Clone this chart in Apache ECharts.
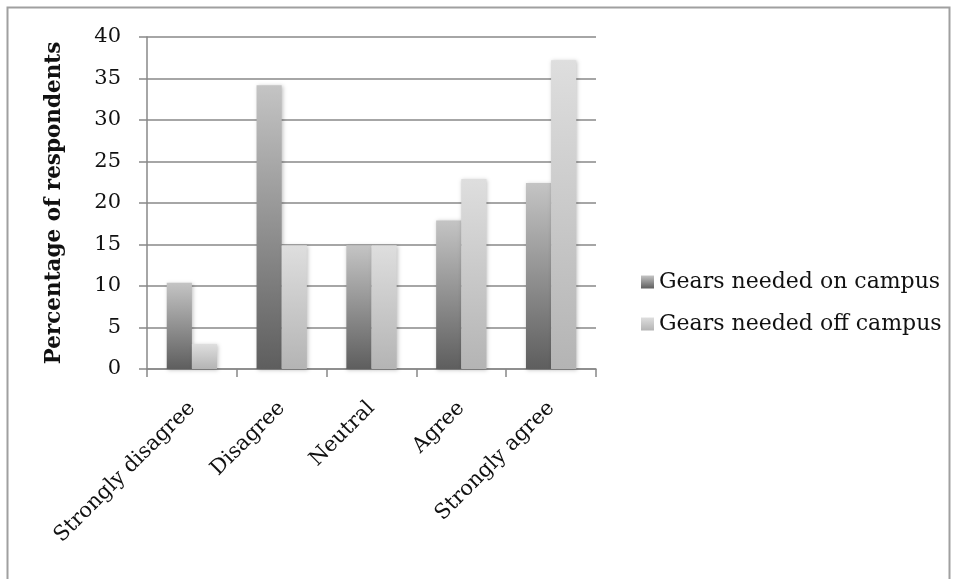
<!DOCTYPE html>
<html>
<head>
<meta charset="utf-8">
<script src="https://cdn.jsdelivr.net/npm/echarts@6/dist/echarts.min.js"></script>
<style>
  html, body { margin: 0; padding: 0; background: #fff; }
  #chart { width: 956px; height: 579px; }
</style>
</head>
<body>
<div id="chart"></div>
<script>
// categories and values
const categories = ["Strongly disagree", "Disagree", "Neutral", "Agree", "Strongly agree"];
const onCampus = [10.4, 34.2, 14.9, 17.9, 22.4];
const offCampus = [3.0, 14.9, 14.9, 22.9, 37.2];
const seriesNames = ["Gears needed on campus", "Gears needed off campus"];

const font = "DejaVu Serif";

const grad = (top, bottom) =>
    new echarts.graphic.LinearGradient(0, 0, 0, 1, [
        { offset: 0, color: top },
        { offset: 1, color: bottom },
    ]);

const chart = echarts.init(document.getElementById("chart"));

const option = {
    animation: false,
    graphic: [
        {
            type: "rect",
            shape: { x: 7.5, y: 7.5, width: 942, height: 580 },
            style: { fill: "none", stroke: "#a0a0a0", lineWidth: 2 },
        },
    ],
    legend: {
        orient: "vertical",
        left: 636,
        top: 266,
        itemWidth: 13,
        itemHeight: 13,
        itemGap: 20,
        icon: "rect",
        textStyle: { fontFamily: font, fontSize: 22, color: "#111" },
        data: seriesNames,
    },
    grid: {
        left: 147,
        top: 37,
        width: 449,
        height: 332,
    },
    xAxis: {
        type: "category",
        data: categories,
        axisLine: { lineStyle: { color: "#888", width: 1.5 } },
        axisTick: { show: true, length: 8, lineStyle: { color: "#888", width: 1.5 } },
        axisLabel: {
            rotate: 45,
            margin: 36,
            interval: 0,
            fontFamily: font,
            fontSize: 21,
            color: "#111",
        },
    },
    yAxis: {
        type: "value",
        min: 0,
        max: 40,
        interval: 5,
        name: "Percentage of respondents",
        nameLocation: "middle",
        nameGap: 82,
        nameTextStyle: { fontFamily: font, fontSize: 21.5, fontWeight: "bold", color: "#111" },
        axisLine: { show: true, lineStyle: { color: "#888", width: 1.5 } },
        axisTick: { show: true, length: 8, lineStyle: { color: "#888", width: 1.5 } },
        axisLabel: { fontFamily: font, fontSize: 21, color: "#111", margin: 26 },
        splitLine: { lineStyle: { color: "#888", width: 1.5 } },
    },
    series: [
        {
            name: seriesNames[0],
            type: "bar",
            data: onCampus,
            barGap: "0%",
            barCategoryGap: "44%",
            itemStyle: {
                color: grad("#c4c4c4", "#5e5e5e"),
                shadowColor: "rgba(0,0,0,0.25)",
                shadowBlur: 4,
                shadowOffsetX: 1,
                shadowOffsetY: 1,
            },
        },
        {
            name: seriesNames[1],
            type: "bar",
            data: offCampus,
            itemStyle: {
                color: grad("#dedede", "#b4b4b4"),
                shadowColor: "rgba(0,0,0,0.25)",
                shadowBlur: 4,
                shadowOffsetX: 1,
                shadowOffsetY: 1,
            },
        },
    ],
};

chart.setOption(option);
</script>
</body>
</html>
